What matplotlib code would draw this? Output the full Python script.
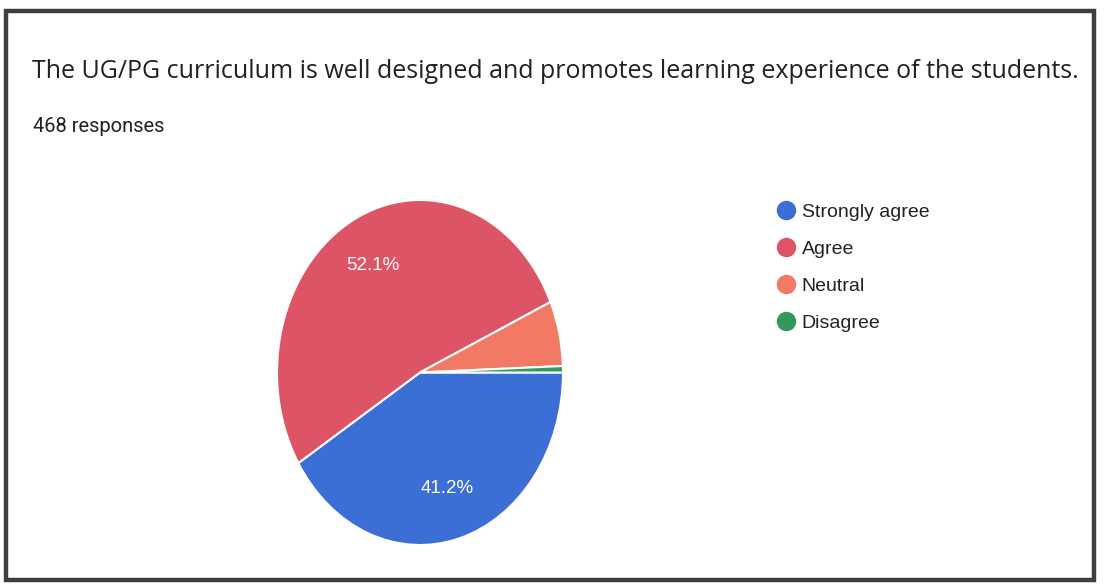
import matplotlib
matplotlib.use("Agg")
import matplotlib.pyplot as plt
from matplotlib.patches import Rectangle
from matplotlib.lines import Line2D

title = "The UG/PG curriculum is well designed and promotes learning experience of the students."
subtitle = "468 responses"
labels = ["Strongly agree", "Agree", "Neutral", "Disagree"]
shares = [41.2, 52.1, 6.1, 0.6]
colors = ["#3b6fd6", "#dd5466", "#f27a64", "#2f9a5c"]

W, H = 1104, 586
fig = plt.figure(figsize=(W / 100, H / 100), dpi=100)
fig.patch.set_facecolor("white")

# scanned frame
fig.patches.append(Rectangle((6 / W, 6 / H), 1088 / W, 569 / H, transform=fig.transFigure,
                             fill=False, edgecolor="#3a3f44", linewidth=3.2))

fig.text(32 / W, 1 - 72 / H, title, fontsize=18, family="Open Sans", color="#202124", va="center")
fig.text(33 / W, 1 - 126 / H, subtitle, fontsize=14.5, family="Roboto", color="#202124", va="center")

# pie is stretched vertically in the scan, so axes aspect stays auto
ax = fig.add_axes([277 / W, 1 - 545 / H, 286 / W, 345 / H])


def pct(v):
    return f"{v:.1f}%" if v > 10 else ""


wedges, _, autotexts = ax.pie(shares, colors=colors, startangle=0, counterclock=False,
                              autopct=pct, pctdistance=0.7,
                              wedgeprops=dict(edgecolor="white", linewidth=1.5))
for t in autotexts:
    t.set_color("white")
    t.set_fontsize(13.5)
    t.set_family("Liberation Sans")
ax.set_aspect("auto")
ax.set_xlim(-1, 1)
ax.set_ylim(-1, 1)

handles = [Line2D([], [], marker="o", linestyle="none", markersize=13,
                  markerfacecolor=c, markeredgecolor=c) for c in colors]
leg = fig.legend(handles, labels, loc="upper left", bbox_to_anchor=(757 / W, 1 - 186 / H),
                 frameon=False, handletextpad=0.2, labelspacing=1.0, handlelength=1.2,
                 prop={"family": "Liberation Sans", "size": 14})
for t in leg.get_texts():
    t.set_color("#222222")

fig.savefig("out.png", dpi=100)
